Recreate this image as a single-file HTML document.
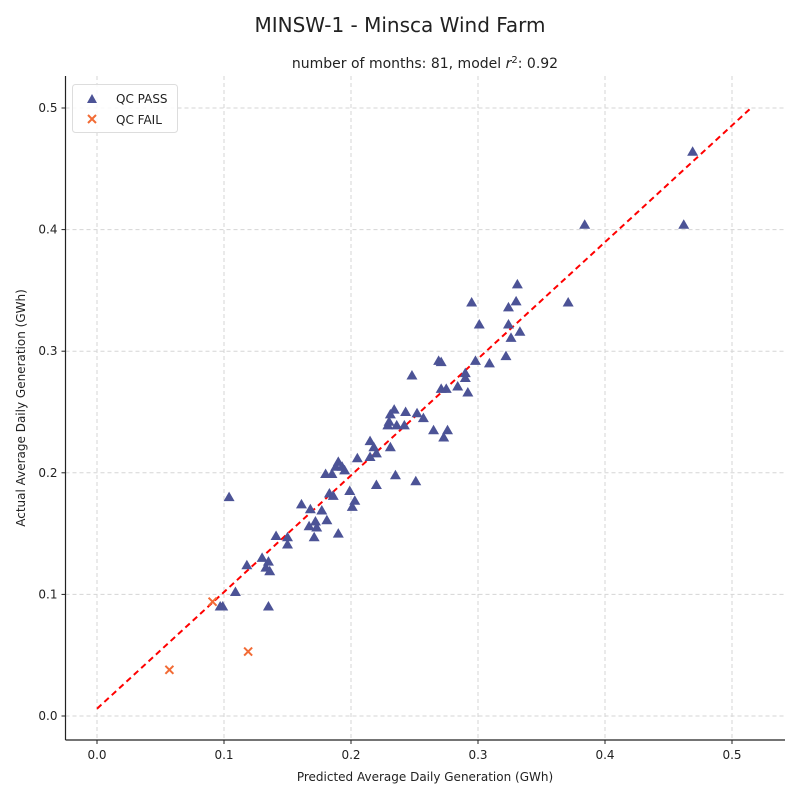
<!DOCTYPE html>
<html><head><meta charset="utf-8"><style>
body{margin:0;background:#fff;}
svg text{font-family:"DejaVu Sans","Liberation Sans",sans-serif;fill:#222;}
</style></head><body>
<svg id="chart" width="800" height="800" xmlns="http://www.w3.org/2000/svg">
<text x="400" y="32" text-anchor="middle" font-size="20">MINSW-1 - Minsca Wind Farm</text>
<text x="425" y="68" text-anchor="middle" font-size="14">number of months: 81, model <tspan font-style="italic">r</tspan><tspan baseline-shift="super" font-size="10">2</tspan>: 0.92</text>
<g id="grid"></g><g id="axes"></g><g id="marks"></g>
<text x="425" y="781" text-anchor="middle" font-size="12">Predicted Average Daily Generation (GWh)</text>
<text transform="translate(25,408) rotate(-90)" text-anchor="middle" font-size="12">Actual Average Daily Generation (GWh)</text>
<g>
<rect x="72.5" y="84.5" width="105" height="48" rx="3" fill="#fff" fill-opacity="0.85" stroke="#ddd"/>
<path d="M92,94 L97,103 L87,103 Z" fill="#4c5396"/>
<text x="116" y="103" font-size="12">QC PASS</text>
<path d="M88,115 L96,123 M96,115 L88,123" stroke="#f26b35" stroke-width="2"/>
<text x="116" y="124" font-size="12">QC FAIL</text>
</g>
</svg>
<script>
const xTicks=[0.0,0.1,0.2,0.3,0.4,0.5];
const yTicks=[0.0,0.1,0.2,0.3,0.4,0.5];
const passX=[0.469,0.384,0.462,0.371,0.295,0.331,0.301,0.324,0.330,0.324,0.333,0.326,0.322,0.298,0.309,0.269,0.271,0.248,0.290,0.290,0.271,0.275,0.284,0.292,0.243,0.231,0.234,0.252,0.257,0.229,0.236,0.242,0.265,0.276,0.273,0.215,0.218,0.231,0.220,0.215,0.205,0.190,0.188,0.195,0.193,0.180,0.185,0.235,0.251,0.220,0.199,0.183,0.186,0.203,0.201,0.161,0.168,0.177,0.172,0.181,0.173,0.167,0.171,0.190,0.150,0.104,0.141,0.150,0.130,0.118,0.133,0.135,0.136,0.109,0.097,0.099,0.135,0.230];
const passY=[0.464,0.404,0.404,0.340,0.340,0.355,0.322,0.336,0.341,0.322,0.316,0.311,0.296,0.292,0.290,0.292,0.291,0.280,0.278,0.282,0.269,0.269,0.271,0.266,0.250,0.248,0.252,0.249,0.245,0.239,0.239,0.239,0.235,0.235,0.229,0.226,0.221,0.221,0.216,0.213,0.212,0.209,0.205,0.202,0.205,0.199,0.199,0.198,0.193,0.190,0.185,0.183,0.181,0.177,0.172,0.174,0.170,0.169,0.160,0.161,0.155,0.156,0.147,0.150,0.141,0.180,0.148,0.147,0.130,0.124,0.122,0.127,0.119,0.102,0.090,0.090,0.090,0.242];
const failX=[0.091,0.057,0.119];
const failY=[0.094,0.038,0.053];
const lineX=[0.0,0.516];
const lineY=[0.006,0.501];

const NS="http://www.w3.org/2000/svg";
const L=65.5,R=785,T=76,B=740;
const sx=v=>97+v*1270;
const sy=v=>716-v*1216;
function mk(tag,attrs,parent){const e=document.createElementNS(NS,tag);for(const k in attrs)e.setAttribute(k,attrs[k]);document.getElementById(parent).appendChild(e);return e;}
xTicks.forEach(t=>{
 const g=mk('line',{x1:sx(t),x2:sx(t),y1:T,y2:B,stroke:'#d5d5d5','stroke-dasharray':'4,3'},'grid');
 
 
 const tk=mk('line',{x1:sx(t),x2:sx(t),y1:B,y2:B+4,stroke:'#222'},'axes');
 
 
 const tx=mk('text',{x:sx(t),y:B+19,'text-anchor':'middle','font-size':'12'},'axes');
 tx.textContent=t.toFixed(1);
 
 
});
yTicks.forEach(t=>{
 const g=mk('line',{x1:L,x2:R,y1:sy(t),y2:sy(t),stroke:'#d5d5d5','stroke-dasharray':'4,3'},'grid');
 
 
 const tk=mk('line',{x1:L-4,x2:L,y1:sy(t),y2:sy(t),stroke:'#222'},'axes');
 
 
 const tx=mk('text',{x:L-8,y:sy(t)+4,'text-anchor':'end','font-size':'12'},'axes');
 tx.textContent=t.toFixed(1);
 
 
});
const sp1=mk('line',{x1:L,x2:L,y1:T,y2:B,stroke:'#222','stroke-width':1.2},'axes');


const sp2=mk('line',{x1:L,x2:R,y1:B,y2:B,stroke:'#222','stroke-width':1.2},'axes');


const ln=mk('line',{x1:sx(lineX[0]),y1:sy(lineY[0]),x2:sx(lineX[1]),y2:sy(lineY[1]),stroke:'#ff0000','stroke-width':2,'stroke-dasharray':'6,4'},'marks');


passX.forEach((v,i)=>{
 const x=sx(v),y=sy(passY[i]);
 const p=mk('path',{d:`M${x},${y-5.5} L${x+5.5},${y+4} L${x-5.5},${y+4} Z`,fill:'#4c5396'},'marks');
 
 
});
failX.forEach((v,i)=>{
 const x=sx(v),y=sy(failY[i]);
 const p=mk('path',{d:`M${x-4},${y-4} L${x+4},${y+4} M${x+4},${y-4} L${x-4},${y+4}`,stroke:'#f26b35','stroke-width':2},'marks');
 
 
});
</script>
</body></html>
